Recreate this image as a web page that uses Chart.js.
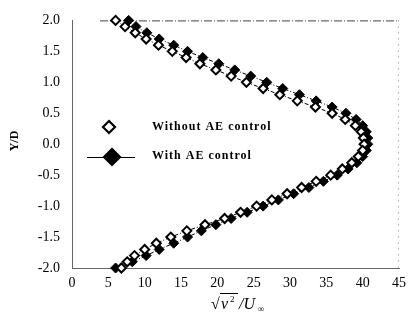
<!DOCTYPE html>
<html>
<head>
<meta charset="utf-8">
<script src="https://cdn.jsdelivr.net/npm/chart.js@4.4.1/dist/chart.umd.min.js"></script>
<style>
  html, body { margin: 0; padding: 0; background: #fff; }
  #wrap { width: 413px; height: 326px; position: relative; }
</style>
</head>
<body>
<div id="wrap"><canvas id="c" width="413" height="326"></canvas></div>
<script>
'use strict';

// ── Data ─────────────────────────────────────────────────────
const yPositions = [
   2.0,  1.9,  1.8,  1.7,  1.6,  1.5,  1.4,  1.3,  1.2,  1.1,  1.0,
   0.9,  0.8,  0.7,  0.6,  0.5,  0.4,  0.3,  0.2,  0.1,  0.0,
  -0.1, -0.2, -0.3, -0.4, -0.5, -0.6, -0.7, -0.8, -0.9, -1.0,
  -1.1, -1.2, -1.3, -1.4, -1.5, -1.6, -1.7, -1.8, -1.9, -2.0,
];

const withoutAE = [
   6.0,  7.3,  8.7, 10.2, 11.9, 13.8, 15.7, 17.6, 19.8, 21.9, 24.0,
  26.3, 28.6, 31.0, 33.5, 35.8, 37.6, 39.0, 39.8, 40.1, 40.2,
  40.0, 39.4, 38.5, 37.2, 35.6, 33.6, 31.6, 29.6, 27.5, 25.4,
  23.2, 21.0, 18.3, 15.8, 13.6, 11.6, 10.0,  8.6,  7.6,  6.8,
];

const withAE = [
   7.8,  8.8, 10.3, 12.0, 14.0, 15.9, 18.0, 20.2, 22.4, 24.6, 26.8,
  29.0, 31.3, 33.6, 35.8, 37.7, 39.1, 40.0, 40.5, 40.7, 40.7,
  40.5, 40.0, 39.2, 38.0, 36.5, 34.6, 32.6, 30.5, 28.4, 26.3,
  24.1, 21.9, 19.8, 17.8, 15.9, 14.0, 12.0, 10.2,  8.3,  6.0,
];

const xTicks = [0, 5, 10, 15, 20, 25, 30, 35, 40, 45];
const yTicks = [-2.0, -1.5, -1.0, -0.5, 0.0, 0.5, 1.0, 1.5, 2.0];

const SERIF = "'Liberation Serif', 'DejaVu Serif', serif";
const INK = '#000';

function toPoints(xs) {
  return xs.map((x, i) => ({ x, y: yPositions[i] }));
}

// ── Extra drawing: frame, legend, axis titles ─────────────────
const decorPlugin = {
  id: 'decor',
  beforeDatasetsDraw(chart) {
    const { ctx, chartArea: { left, right, top, bottom } } = chart;
    ctx.save();
    // dashed top / dotted right frame
    ctx.strokeStyle = '#444';
    ctx.lineWidth = 1;
    ctx.setLineDash([8, 2, 1, 2]);
    ctx.beginPath();
    ctx.moveTo(left + 28, top + 0.5);
    ctx.lineTo(right, top + 0.5);
    ctx.stroke();
    ctx.setLineDash([1, 5]);
    ctx.strokeStyle = '#888';
    ctx.beginPath();
    ctx.moveTo(right - 0.5, top);
    ctx.lineTo(right - 0.5, bottom);
    ctx.stroke();
    ctx.restore();
  },
  afterDraw(chart) {
    const { ctx } = chart;
    ctx.save();

    // legend
    const drawDiamond = (cx, cy, r, filled) => {
      ctx.beginPath();
      ctx.moveTo(cx, cy - r);
      ctx.lineTo(cx + r, cy);
      ctx.lineTo(cx, cy + r);
      ctx.lineTo(cx - r, cy);
      ctx.closePath();
      ctx.fillStyle = filled ? INK : '#fff';
      ctx.fill();
      ctx.lineWidth = 2.2;
      ctx.strokeStyle = INK;
      ctx.stroke();
    };
    drawDiamond(109, 127, 6, false);
    ctx.beginPath();
    ctx.lineWidth = 1;
    ctx.moveTo(87, 157.5);
    ctx.lineTo(135, 157.5);
    ctx.stroke();
    drawDiamond(112, 157, 8, true);

    ctx.fillStyle = INK;
    ctx.font = `bold 12px ${SERIF}`;
    ctx.letterSpacing = '1px';
    ctx.textAlign = 'left';
    ctx.textBaseline = 'middle';
    ctx.fillText('Without AE control', 152, 127);
    ctx.fillText('With AE control', 152, 156);
    ctx.letterSpacing = '0px';

    // y title
    ctx.save();
    ctx.translate(15, 141);
    ctx.rotate(-Math.PI / 2);
    ctx.textAlign = 'center';
    ctx.font = `bold 12px ${SERIF}`;
    ctx.fillText('Y/D', 0, 0);
    ctx.restore();

    // x title: sqrt(v'^2)/U_inf
    ctx.textAlign = 'left';
    ctx.textBaseline = 'alphabetic';
    const bx = 211, by = 309;
    ctx.font = `16px ${SERIF}`;
    ctx.fillText('\u221A', bx, by);
    ctx.beginPath();
    ctx.lineWidth = 1;
    ctx.moveTo(bx + 9, by - 15.5);
    ctx.lineTo(bx + 27, by - 15.5);
    ctx.stroke();
    ctx.font = `italic 16px ${SERIF}`;
    ctx.fillText('v', bx + 10, by);
    ctx.font = `9px ${SERIF}`;
    ctx.fillText('2', bx + 19, by - 7);
    ctx.font = `italic 16px ${SERIF}`;
    ctx.fillText('/U', bx + 28, by);
    ctx.font = `bold 9px ${SERIF}`;
    ctx.fillText('\u221E', bx + 47, by + 3);

    ctx.restore();
  },
};

const lineDash = [4, 2, 1, 2];

new Chart(document.getElementById('c'), {
  type: 'scatter',
  data: {
    datasets: [
      {
        label: 'Without AE control',
        data: toPoints(withoutAE),
        showLine: true,
        clip: false,
        borderColor: INK,
        borderWidth: 1,
        borderDash: lineDash,
        pointStyle: 'rectRot',
        pointRadius: 4.5,
        pointBorderWidth: 2,
        pointBorderColor: INK,
        pointBackgroundColor: '#fff',
      },
      {
        label: 'With AE control',
        data: toPoints(withAE),
        showLine: true,
        clip: false,
        borderColor: INK,
        borderWidth: 1,
        borderDash: lineDash,
        pointStyle: 'rectRot',
        pointRadius: 5,
        pointBorderWidth: 1,
        pointBorderColor: INK,
        pointBackgroundColor: INK,
      },
    ],
  },
  options: {
    responsive: false,
    animation: false,
    layout: { padding: { left: 0, right: 9, top: 14, bottom: 0 } },
    scales: {
      x: {
        type: 'linear',
        min: 0,
        max: 45,
        afterFit: s => { s.height = 58; },
        afterBuildTicks: s => { s.ticks = xTicks.map(v => ({ value: v })); },
        grid: { display: false, drawTicks: false },
        border: { display: true, color: '#666', dash: [2, 3], width: 1 },
        ticks: {
          color: INK,
          padding: 7,
          maxRotation: 0,
          font: { family: SERIF, size: 14 },
          callback: v => String(v),
        },
      },
      y: {
        type: 'linear',
        min: -2,
        max: 2,
        afterFit: s => { s.width = 72; },
        afterBuildTicks: s => { s.ticks = yTicks.map(v => ({ value: v })); },
        grid: { display: false, drawTicks: false },
        border: { display: true, color: '#666', dash: [1, 3], width: 1 },
        ticks: {
          color: INK,
          padding: 12,
          font: { family: SERIF, size: 14 },
          callback: v => v.toFixed(1),
        },
      },
    },
    plugins: {
      legend: { display: false },
      tooltip: { enabled: false },
    },
  },
  plugins: [decorPlugin],
});
</script>
</body>
</html>
